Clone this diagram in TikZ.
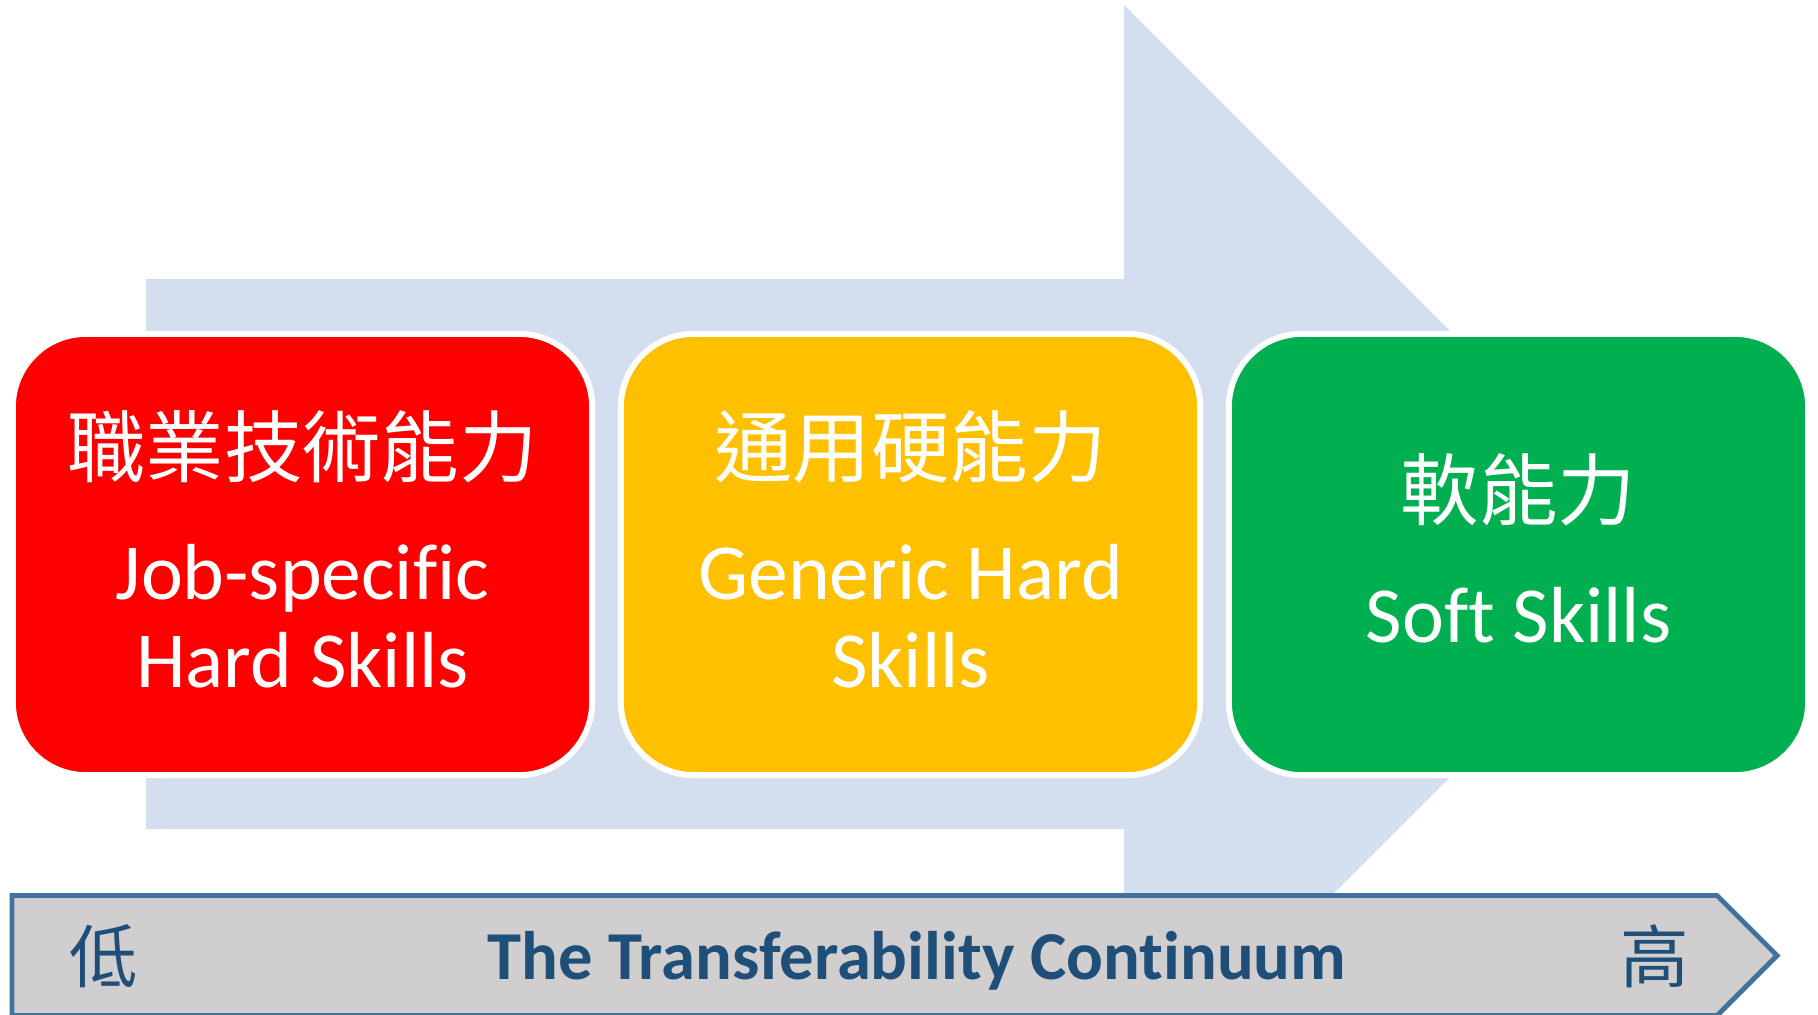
\documentclass[tikz,border=0pt]{standalone}
\usepackage{fontspec}
\setmainfont{Carlito}[Ligatures=NoCommon]
\newfontfamily\cjk{Noto Sans CJK TC}
\usepackage{tikz}
\usepackage{xcolor}
\usetikzlibrary{positioning}
\definecolor{shaftblue}{HTML}{D3DEEF}
\definecolor{barfill}{HTML}{D0CECE}
\definecolor{barline}{HTML}{41719C}
\definecolor{bartext}{HTML}{1F4E79}
\definecolor{jobred}{HTML}{FF0000}
\definecolor{genericorange}{HTML}{FFC000}
\definecolor{softgreen}{HTML}{00B050}

\begin{document}
\begin{tikzpicture}[x=0.01cm, y=0.01cm]
\tikzstyle{every node}+=[inner sep=0pt]
\tikzstyle{skill}=[draw=white, line width=1.7pt, rounded corners=0.73cm, minimum width=5.79cm, minimum height=4.41cm]
\tikzstyle{zh}=[anchor=base, text=white, font=\cjk\fontsize{22.3}{26}\selectfont]
\tikzstyle{en}=[anchor=base, text=white, font=\fontsize{22.6}{26}\selectfont]
\tikzstyle{scaletext}=[anchor=base, text=bartext, font=\fontsize{19.5}{23}\selectfont]
\useasboundingbox (0,0) rectangle (1818,-1014);
\fill [shaftblue] (146,-279) -- (1124,-279) -- (1124,-5) -- (1673,-554) -- (1124,-1103) -- (1124,-829) -- (146,-829) -- cycle;
\node [skill, fill=jobred] (job) at (302.5,-554.5) {};
\node [skill, fill=genericorange] (generic) at (910.5,-554.5) {};
\node [skill, fill=softgreen] (soft) at (1518.5,-554.5) {};
\node [zh] (jobzh) at (302.5,-476) {職業技術能力};
\node [en] (joben) at (302.5,-599) {Job-specific};
\node [en] (jobhard) at (302.5,-687.5) {Hard Skills};
\node [zh] (genericzh) at (910.5,-476) {通用硬能力};
\node [en] (genericen) at (910.5,-599) {Generic Hard};
\node [en] (genericskills) at (910.5,-687.5) {Skills};
\node [zh] (softzh) at (1518.5,-519) {軟能力};
\node [en] (soften) at (1518.5,-642) {Soft Skills};
\draw [barline, fill=barfill, line width=1.4pt] (12,-895.5) -- (1717,-895.5) -- (1777,-955.5) -- (1717,-1015.5) -- (12,-1015.5) -- cycle;
\node [scaletext] (low) at (104,-982) {\cjk 低};
\node [scaletext, font=\bfseries\fontsize{19.5}{23}\selectfont] (title) at (917,-979) {The Transferability Continuum};
\node [scaletext] (high) at (1655,-982) {\cjk 高};
\end{tikzpicture}
\end{document}
